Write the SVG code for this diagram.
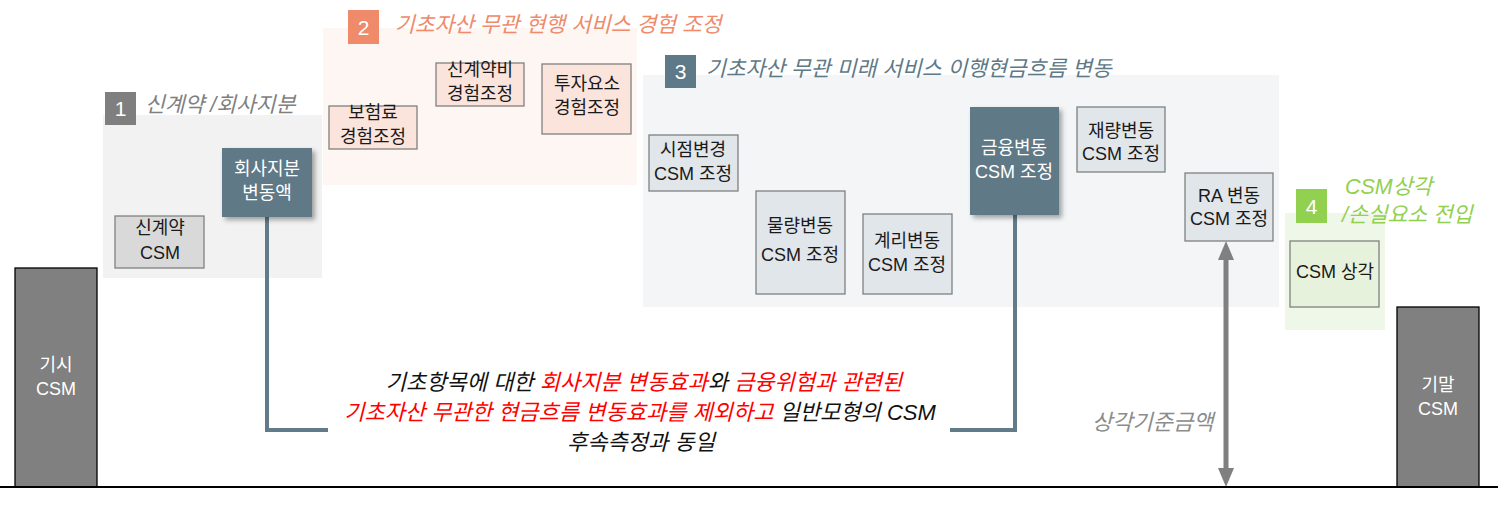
<svg xmlns="http://www.w3.org/2000/svg" width="1498" height="509" viewBox="0 0 1498 509">
<style>
text{font-family:"Liberation Sans","Noto Sans CJK KR",sans-serif}
.nt{font-size:18px;fill:#1a1a1a;text-anchor:middle}
.wt{font-size:18px;fill:#ffffff;text-anchor:middle}
.bt{font-size:18px;fill:#ffffff;text-anchor:middle}
.badge{font-size:21px;fill:#ffffff;text-anchor:middle}
.title{font-size:21.5px;font-style:italic}
.lb{stroke:#808080;stroke-width:1.3}
.pink{fill:#fbe4dc}
.blue{fill:#e1e6ea}
.dark{fill:#5e7987;filter:url(#sh)}
.conn{fill:none;stroke:#627b89;stroke-width:4}
.mid{font-size:22px;font-style:italic;text-anchor:middle}
.red{fill:#ff0000}
.blk{fill:#111111}
</style>
<defs>
<filter id="sh" x="-20%" y="-20%" width="150%" height="150%">
<feDropShadow dx="3" dy="3" stdDeviation="2.5" flood-color="#000" flood-opacity="0.35"/>
</filter>
</defs>
<rect width="1498" height="509" fill="#ffffff"/>

<!-- panels -->
<g id="panel1">
<rect x="103" y="115" width="219" height="163" fill="#f2f2f2"/>
<rect x="105" y="92" width="31" height="33" fill="#7f7f7f"/>
<text class="badge" x="120.5" y="116">1</text>
<text class="title" x="145" y="112" fill="#7f7f7f">신계약 /회사지분</text>
</g>
<g id="panel2">
<rect x="323" y="28" width="314" height="157" fill="#fdf6f3"/>
<rect x="348" y="10" width="31" height="34" fill="#ef8a6b"/>
<text class="badge" x="363.5" y="35">2</text>
<text class="title" x="395" y="32" fill="#ef8a6b">기초자산 무관 현행 서비스 경험 조정</text>
</g>
<g id="panel3">
<rect x="643" y="75" width="636" height="232" fill="#f3f5f7"/>
<rect x="665" y="55" width="31" height="33" fill="#5e7987"/>
<text class="badge" x="680.5" y="79">3</text>
<text class="title" x="706" y="76" fill="#5e7987">기초자산 무관 미래 서비스 이행현금흐름 변동</text>
</g>
<g id="panel4">
<rect x="1285" y="213" width="100" height="117" fill="#eff7e8"/>
<rect x="1296" y="189" width="31" height="34" fill="#92d050"/>
<text class="badge" x="1311.5" y="214">4</text>
<text class="title" x="1345" y="194" fill="#92d050">CSM상각</text>
<text class="title" x="1342" y="222" fill="#92d050">/손실요소 전입</text>
</g>

<!-- connectors -->
<g id="connectors">
<polyline class="conn" points="267,217 267,430 328,430"/>
<polyline class="conn" points="1015,215 1015,430 950,430"/>
<line x1="1226" y1="256" x2="1226" y2="472" stroke="#808080" stroke-width="5"/>
<polygon points="1226,241 1234,260 1218,260" fill="#808080"/>
<polygon points="1226,487 1234,468 1218,468" fill="#808080"/>
<text x="1092" y="430" font-size="22" font-style="italic" fill="#8c8c8c">상각기준금액</text>
</g>

<!-- nodes -->
<g id="n-start">
<rect x="15" y="268" width="82" height="219" fill="#808080" stroke="#000" stroke-width="1.3"/>
<text class="bt" x="56" y="371">기시</text>
<text class="bt" x="56" y="395">CSM</text>
</g>
<g id="n-end">
<rect x="1397" y="307" width="82" height="180" fill="#808080" stroke="#000" stroke-width="1.3"/>
<text class="bt" x="1438" y="391">기말</text>
<text class="bt" x="1438" y="415">CSM</text>
</g>
<g id="n-newcsm">
<rect class="lb" x="115" y="216" width="89" height="52" fill="#d9d9d9"/>
<text class="nt" x="160" y="234">신계약</text>
<text class="nt" x="160" y="259">CSM</text>
</g>
<g id="n-equity">
<rect class="dark" x="222" y="148" width="90" height="69"/>
<text class="wt" x="267" y="175">회사지분</text>
<text class="wt" x="267" y="199">변동액</text>
</g>
<g id="n-premium">
<rect class="lb pink" x="329" y="106" width="88" height="43"/>
<text class="nt" x="373" y="119">보험료</text>
<text class="nt" x="373" y="143">경험조정</text>
</g>
<g id="n-acq">
<rect class="lb pink" x="436" y="63" width="88" height="43"/>
<text class="nt" x="480" y="76">신계약비</text>
<text class="nt" x="480" y="100">경험조정</text>
</g>
<g id="n-invest">
<rect class="lb pink" x="542" y="64" width="89" height="70"/>
<text class="nt" x="587" y="90">투자요소</text>
<text class="nt" x="587" y="114">경험조정</text>
</g>
<g id="n-timing">
<rect class="lb blue" x="649" y="135" width="89" height="56"/>
<text class="nt" x="693" y="156">시점변경</text>
<text class="nt" x="693" y="180">CSM 조정</text>
</g>
<g id="n-volume">
<rect class="lb blue" x="756" y="191" width="89" height="103"/>
<text class="nt" x="800" y="232">물량변동</text>
<text class="nt" x="800" y="261">CSM 조정</text>
</g>
<g id="n-actuarial">
<rect class="lb blue" x="863" y="214" width="89" height="80"/>
<text class="nt" x="907" y="247">계리변동</text>
<text class="nt" x="907" y="271">CSM 조정</text>
</g>
<g id="n-financial">
<rect class="dark" x="970" y="107" width="89" height="108"/>
<text class="wt" x="1014" y="154">금융변동</text>
<text class="wt" x="1014" y="178">CSM 조정</text>
</g>
<g id="n-discretion">
<rect class="lb blue" x="1077" y="107" width="88" height="65"/>
<text class="nt" x="1121" y="137">재량변동</text>
<text class="nt" x="1121" y="160">CSM 조정</text>
</g>
<g id="n-ra">
<rect class="lb blue" x="1185" y="173" width="88" height="68"/>
<text class="nt" x="1229" y="202">RA 변동</text>
<text class="nt" x="1229" y="225">CSM 조정</text>
</g>
<g id="n-amort">
<rect class="lb" x="1290" y="241" width="89" height="66" fill="#e7f2dd"/>
<text class="nt" x="1335" y="278">CSM 상각</text>
</g>

<!-- baseline -->
<line x1="0" y1="487" x2="1498" y2="487" stroke="#000" stroke-width="2"/>

<!-- center note -->
<g id="note">
<text class="mid" x="644" y="390"><tspan class="blk">기초항목에 대한 </tspan><tspan class="red">회사지분 변동효과</tspan><tspan class="blk">와 </tspan><tspan class="red">금융위험과 관련된</tspan></text>
<text class="mid" x="640" y="420"><tspan class="red">기초자산 무관한 현금흐름 변동효과를 제외하고</tspan><tspan class="blk"> 일반모형의 CSM</tspan></text>
<text class="mid" x="641" y="450"><tspan class="blk">후속측정과 동일</tspan></text>
</g>
</svg>
